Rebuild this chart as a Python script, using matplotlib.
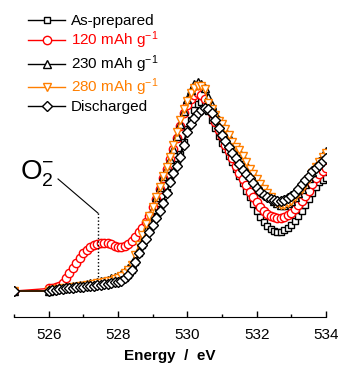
import numpy as np
import matplotlib
matplotlib.use("Agg")
import matplotlib.pyplot as plt

plt.rcParams['font.family'] = ['Liberation Sans', 'DejaVu Sans']
plt.rcParams['mathtext.default'] = 'regular'

# Energy grid (eV): one point at 525, then 0.1 eV steps from 526 to 534
energy = np.concatenate([[525.0], np.round(np.arange(526.0, 534.0001, 0.1), 1)])

as_prepared = [0.0,
    0.000, 0.004, 0.008, 0.010, 0.012, 0.014, 0.016, 0.018, 0.020, 0.022,
    0.024, 0.026, 0.028, 0.030, 0.032, 0.034, 0.036, 0.038, 0.040, 0.043,
    0.046, 0.052, 0.062, 0.078, 0.102, 0.140, 0.180, 0.220, 0.252, 0.285,
    0.320, 0.355, 0.390, 0.425, 0.475, 0.525, 0.570, 0.610, 0.655, 0.715,
    0.775, 0.820, 0.865, 0.895, 0.905, 0.890, 0.860, 0.820, 0.780, 0.740,
    0.710, 0.680, 0.645, 0.615, 0.585, 0.550, 0.515, 0.480, 0.450, 0.415,
    0.385, 0.355, 0.330, 0.310, 0.295, 0.287, 0.283, 0.283, 0.290, 0.300,
    0.315, 0.335, 0.360, 0.385, 0.410, 0.440, 0.470, 0.500, 0.520, 0.530,
    0.540]

c120 = [0.0,
    0.012, 0.014, 0.017, 0.025, 0.040, 0.060, 0.085, 0.110, 0.135, 0.160,
    0.180, 0.195, 0.210, 0.220, 0.226, 0.231, 0.232, 0.229, 0.223, 0.216,
    0.211, 0.210, 0.215, 0.225, 0.240, 0.260, 0.280, 0.300, 0.330, 0.360,
    0.400, 0.440, 0.490, 0.540, 0.585, 0.630, 0.680, 0.730, 0.790, 0.850,
    0.890, 0.920, 0.940, 0.945, 0.940, 0.920, 0.890, 0.850, 0.810, 0.770,
    0.740, 0.700, 0.670, 0.635, 0.600, 0.565, 0.535, 0.505, 0.475, 0.450,
    0.425, 0.400, 0.385, 0.370, 0.360, 0.352, 0.348, 0.348, 0.355, 0.365,
    0.375, 0.390, 0.410, 0.430, 0.455, 0.480, 0.510, 0.540, 0.560, 0.575,
    0.590]

c230 = [0.0,
    0.000, 0.005, 0.010, 0.012, 0.015, 0.018, 0.020, 0.022, 0.025, 0.028,
    0.030, 0.033, 0.036, 0.040, 0.043, 0.047, 0.050, 0.055, 0.060, 0.066,
    0.073, 0.082, 0.095, 0.110, 0.130, 0.160, 0.200, 0.240, 0.290, 0.340,
    0.390, 0.450, 0.500, 0.550, 0.590, 0.630, 0.680, 0.740, 0.800, 0.860,
    0.920, 0.960, 0.990, 1.000, 0.990, 0.970, 0.930, 0.890, 0.850, 0.820,
    0.800, 0.770, 0.740, 0.710, 0.690, 0.670, 0.640, 0.610, 0.580, 0.560,
    0.530, 0.510, 0.490, 0.470, 0.450, 0.430, 0.420, 0.410, 0.410, 0.420,
    0.430, 0.450, 0.470, 0.490, 0.510, 0.540, 0.570, 0.600, 0.620, 0.650,
    0.670]

c280 = [0.0,
    0.000, 0.004, 0.008, 0.010, 0.012, 0.014, 0.016, 0.018, 0.020, 0.022,
    0.024, 0.027, 0.030, 0.033, 0.036, 0.039, 0.042, 0.046, 0.050, 0.056,
    0.063, 0.072, 0.085, 0.100, 0.125, 0.170, 0.220, 0.270, 0.320, 0.360,
    0.400, 0.450, 0.500, 0.550, 0.595, 0.640, 0.700, 0.760, 0.820, 0.870,
    0.910, 0.945, 0.970, 0.980, 0.980, 0.965, 0.900, 0.870, 0.840, 0.815,
    0.800, 0.775, 0.745, 0.715, 0.690, 0.675, 0.645, 0.615, 0.585, 0.560,
    0.535, 0.510, 0.490, 0.470, 0.450, 0.430, 0.420, 0.410, 0.410, 0.420,
    0.430, 0.450, 0.470, 0.490, 0.510, 0.535, 0.565, 0.595, 0.615, 0.640,
    0.660]

discharged = [0.0,
    0.000, 0.003, 0.006, 0.008, 0.010, 0.012, 0.014, 0.016, 0.018, 0.019,
    0.020, 0.022, 0.024, 0.026, 0.028, 0.030, 0.032, 0.035, 0.038, 0.041,
    0.045, 0.050, 0.060, 0.075, 0.100, 0.140, 0.180, 0.220, 0.250, 0.280,
    0.315, 0.350, 0.385, 0.420, 0.470, 0.520, 0.565, 0.600, 0.640, 0.700,
    0.760, 0.800, 0.830, 0.850, 0.865, 0.875, 0.870, 0.850, 0.820, 0.780,
    0.745, 0.720, 0.690, 0.660, 0.635, 0.610, 0.580, 0.560, 0.540, 0.515,
    0.495, 0.475, 0.460, 0.450, 0.440, 0.435, 0.430, 0.430, 0.435, 0.445,
    0.455, 0.470, 0.490, 0.510, 0.530, 0.550, 0.575, 0.590, 0.605, 0.620,
    0.636]

labels = ['As-prepared', '120 mAh g$^{-1}$', '230 mAh g$^{-1}$',
          '280 mAh g$^{-1}$', 'Discharged']
series = [as_prepared, c120, c230, c280, discharged]
colors = ['black', '#FF0000', 'black', '#FF7F00', 'black']
markers = ['s', 'o', '^', 'v', 'D']
msizes = [5, 6, 5.5, 5.5, 4.8]

fig = plt.figure(figsize=(3.41, 3.67), dpi=100)
ax = fig.add_axes([14/341, 1 - 317/367, 312/341, 317/367])

for y, c, m, ms, lab in zip(series, colors, markers, msizes, labels):
    ax.plot(energy, y, color=c, marker=m, markersize=ms, markerfacecolor='white',
            markeredgecolor=c, markeredgewidth=1.0, linewidth=1.0, label=lab)

ax.set_xlim(525, 534)
ax.set_ylim(-(317 - 291) / 209, 291 / 209)
for s in ['top', 'left', 'right']:
    ax.spines[s].set_visible(False)
ax.set_yticks([])
ax.set_xticks([526, 528, 530, 532, 534])
ax.set_xticks([525, 527, 529, 531, 533], minor=True)
ax.tick_params(axis='x', which='major', direction='in', length=4, width=1,
               labelsize=11, pad=8)
ax.tick_params(axis='x', which='minor', direction='in', length=2.5, width=1)
ax.set_xlabel('Energy  /  eV', fontsize=11, fontweight='bold', labelpad=5)

# O2- annotation
ax.plot([526.27, 527.42], [0.536, 0.373], color='black', linewidth=0.8)
ax.plot([527.42, 527.42], [0.373, 0.062], color='black', linewidth=1.0,
        linestyle=(0, (1, 1.5)))
ax.text(525.68, 0.56, r'O$_2^{-}$', fontsize=20, ha='center', va='center')

leg = ax.legend(loc='upper left', bbox_to_anchor=(28/341, 1 - 14/367),
                bbox_transform=fig.transFigure, frameon=False, fontsize=11,
                handlelength=2.45, handletextpad=0.35, labelspacing=0.12,
                borderpad=0, borderaxespad=0)
for txt, c in zip(leg.get_texts(), colors):
    txt.set_color(c)

fig.savefig('out.png', dpi=100)
